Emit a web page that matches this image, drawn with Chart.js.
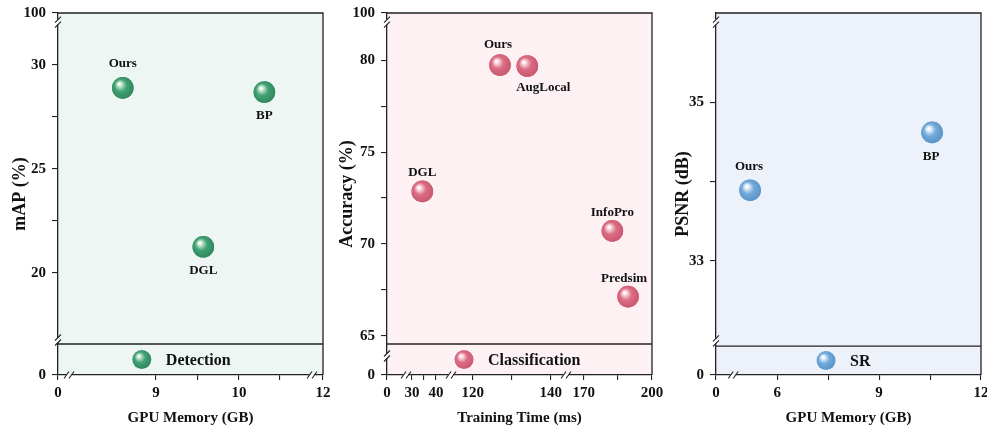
<!DOCTYPE html>
<html>
<head>
<meta charset="utf-8">
<script src="https://cdn.jsdelivr.net/npm/chart.js@4.4.0/dist/chart.umd.min.js"></script>
<style>
html, body {margin: 0; padding: 0; background: #fff;}
#wrap {position: relative; width: 987px; height: 427px;}
#wrap canvas {position: absolute; left: 0; top: 0;}
</style>
</head>
<body>
<div id="wrap">
    <canvas id="det" width="987" height="427"></canvas>
    <canvas id="cls" width="987" height="427"></canvas>
    <canvas id="sr" width="987" height="427"></canvas>
</div>
<script>
const FONT = '"Liberation Serif", "Times New Roman", serif';
Chart.defaults.font.family = FONT;
Chart.defaults.color = '#111';

// detection
const det_methods = ['Ours', 'DGL', 'BP'];
const det_memory = [8.6, 9.57, 10.31];
const det_map = [28.9, 21.26, 28.7];
const det_x_major = [0, 9, 10, 12];
const det_x_minor = [9.5, 10.5];
const det_y_major = [0, 20, 25, 30, 100];
const det_y_minor = [22.5, 27.5];

// classification
const cls_methods = ['Ours', 'AugLocal', 'DGL', 'InfoPro', 'Predsim'];
const cls_time = [127, 134, 34.3, 182.6, 189.5];
const cls_acc = [79.74, 79.69, 72.86, 70.71, 67.13];
const cls_x_major = [0, 30, 40, 120, 140, 170, 200];
const cls_x_minor = [35, 130, 185];
const cls_y_major = [0, 65, 70, 75, 80, 100];
const cls_y_minor = [67.5, 72.5, 77.5];

// super resolution
const sr_methods = ['Ours', 'BP'];
const sr_memory = [5.2, 10.56];
const sr_psnr = [33.89, 34.62];
const sr_x_major = [0, 6, 9, 12];
const sr_x_minor = [7.5, 10.5];
const sr_y_major = [0, 33, 35];
const sr_y_minor = [34];

// linear scale with broken segments: anchors are [value, fraction of axis]
class BrokenScale extends Chart.LinearScale {
    buildTicks() {
        return this.options.tickValues.map(v => ({value: v}));
    }
    toDecimal(value) {
        const a = this.options.anchors;
        if (value <= a[0][0]) return a[0][1];
        for (let i = 1; i < a.length; i++) {
            if (value <= a[i][0]) {
                const t = (value - a[i - 1][0]) / (a[i][0] - a[i - 1][0]);
                return a[i - 1][1] + t * (a[i][1] - a[i - 1][1]);
            }
        }
        return a[a.length - 1][1];
    }
    getPixelForValue(value) {
        if (value === null || isNaN(value)) return NaN;
        return this.getPixelForDecimal(this.toDecimal(value));
    }
    getValueForPixel(pixel) {
        const d = this.getDecimalForPixel(pixel);
        const a = this.options.anchors;
        for (let i = 1; i < a.length; i++) {
            if (d <= a[i][1]) {
                const t = (d - a[i - 1][1]) / (a[i][1] - a[i - 1][1]);
                return a[i - 1][0] + t * (a[i][0] - a[i - 1][0]);
            }
        }
        return a[a.length - 1][0];
    }
}
BrokenScale.id = 'broken';
BrokenScale.defaults = {};
Chart.register(BrokenScale);

const colors = {
    green: {base: '#42a273', light: '#b8e0cb', dark: '#31895d'},
    pink: {base: '#db6c83', light: '#f7ccd5', dark: '#c95a72'},
    blue: {base: '#72aada', light: '#d6e8f6', dark: '#5c95c8'},
};

function sphere(ctx, x, y, r, c) {
    const g = ctx.createRadialGradient(x - r * 0.33, y - r * 0.36, r * 0.07, x - r * 0.08, y - r * 0.08, r * 1.05);
    g.addColorStop(0, '#ffffff');
    g.addColorStop(0.17, c.light);
    g.addColorStop(0.5, c.base);
    g.addColorStop(1, c.dark);
    return g;
}

function drawBreakX(ctx, x, y, bg) {
    ctx.fillStyle = bg;
    ctx.fillRect(x - 2.5, y - 1.6, 5, 1.6);
    ctx.fillStyle = '#fff';
    ctx.fillRect(x - 2.5, y, 5, 1.6);
    ctx.strokeStyle = '#222';
    ctx.lineWidth = 1.1;
    for (const dx of [-2.5, 2.5]) {
        ctx.beginPath();
        ctx.moveTo(x + dx - 2.5, y + 3.5);
        ctx.lineTo(x + dx + 2.5, y - 3.5);
        ctx.stroke();
    }
}

function drawBreakY(ctx, x, y, bg) {
    ctx.fillStyle = '#fff';
    ctx.fillRect(x - 1.6, y - 2.5, 1.6, 5);
    ctx.fillStyle = bg;
    ctx.fillRect(x, y - 2.5, 1.6, 5);
    ctx.strokeStyle = '#222';
    ctx.lineWidth = 1.1;
    for (const dy of [-2.5, 2.5]) {
        ctx.beginPath();
        ctx.moveTo(x - 3, y + dy + 3);
        ctx.lineTo(x + 3, y + dy - 3);
        ctx.stroke();
    }
}

const decor = {
    id: 'decor',
    beforeDraw(chart) {
        const p = chart.config.options.panel;
        const {ctx, chartArea: a} = chart;
        ctx.save();
        ctx.fillStyle = p.bg;
        ctx.fillRect(a.left, a.top, a.right - a.left, a.bottom - a.top);
        ctx.restore();
    },
    afterDatasetsDraw(chart) {
        const p = chart.config.options.panel;
        const ctx = chart.ctx;
        const meta = chart.getDatasetMeta(0);
        ctx.save();
        // shade the library's points as glossy spheres
        meta.data.forEach(pt => {
            const r = pt.options.radius;
            if (!isFinite(pt.x) || !isFinite(pt.y)) return;
            ctx.fillStyle = sphere(ctx, pt.x, pt.y, r, p.color);
            ctx.beginPath();
            ctx.arc(pt.x, pt.y, r, 0, Math.PI * 2);
            ctx.fill();
        });
        ctx.font = 'bold 13px ' + FONT;
        ctx.fillStyle = '#111';
        ctx.textAlign = 'center';
        ctx.textBaseline = 'middle';
        meta.data.forEach((pt, i) => {
            ctx.fillText(p.methods[i], pt.x + p.labelDx[i], pt.y + p.labelDy[i]);
        });
        ctx.restore();
    },
    afterDraw(chart) {
        const p = chart.config.options.panel;
        const {ctx, chartArea: a} = chart;
        const xs = chart.scales.x, ys = chart.scales.y;
        ctx.save();
        ctx.strokeStyle = '#222';
        ctx.lineWidth = 1.3;
        ctx.beginPath();
        ctx.moveTo(a.left, a.top);
        ctx.lineTo(a.right, a.top);
        ctx.lineTo(a.right, a.bottom);
        ctx.stroke();
        const sy = ys.getPixelForDecimal(p.sep);
        ctx.beginPath();
        ctx.moveTo(a.left, sy);
        ctx.lineTo(a.right, sy);
        ctx.stroke();

        p.xBreaks.forEach(d => drawBreakX(ctx, xs.getPixelForDecimal(d), a.bottom, p.bg));
        p.yBreaks.forEach(d => drawBreakY(ctx, a.left, ys.getPixelForDecimal(d), p.bg));

        // legend in the bottom strip
        ctx.font = 'bold 16px ' + FONT;
        const label = chart.data.datasets[0].label;
        const tw = ctx.measureText(label).width;
        const r = 9.5, gap = 24;
        const total = r + gap + tw;
        const cx = (a.left + a.right) / 2 + p.legendShift;
        const ly = (sy + a.bottom) / 2;
        const mx = cx - total / 2 + r;
        ctx.fillStyle = sphere(ctx, mx, ly, r, p.color);
        ctx.beginPath();
        ctx.arc(mx, ly, r, 0, Math.PI * 2);
        ctx.fill();
        ctx.fillStyle = '#111';
        ctx.textAlign = 'left';
        ctx.textBaseline = 'middle';
        ctx.fillText(label, mx + gap, ly + 1);
        ctx.restore();
    }
};

function make_chart(id, p) {
    const points = p.xs.map((x, i) => ({x: x, y: p.ys[i]}));
    return new Chart(document.getElementById(id), {
        type: 'scatter',
        data: {
            datasets: [{
                label: p.task,
                data: points,
                pointRadius: 10.8,
                pointHoverRadius: 10.8,
                borderWidth: 0,
                backgroundColor: p.color.base,
            }]
        },
        options: {
            responsive: false,
            animation: false,
            events: [],
            panel: p,
            layout: {autoPadding: false, padding: {left: p.padLeft, right: p.padRight, top: 13, bottom: 0}},
            plugins: {legend: {display: false}, tooltip: {enabled: false}},
            scales: {
                x: {
                    type: 'broken',
                    position: 'bottom',
                    min: p.xAnchors[0][0],
                    max: p.xAnchors[p.xAnchors.length - 1][0],
                    anchors: p.xAnchors,
                    tickValues: p.xMajor.concat(p.xMinor),
                    afterFit: s => { s.height = 52; s.paddingLeft = 0; s.paddingRight = 0; },
                    grid: {drawOnChartArea: false, drawTicks: true, tickLength: 5, color: '#222', lineWidth: 1.1},
                    border: {display: true, color: '#222', width: 1.3},
                    ticks: {
                        autoSkip: false, maxRotation: 0, padding: 4,
                        font: {size: 15, weight: 'bold'}, color: '#111',
                        callback: v => p.xMajor.includes(v) ? String(v) : '',
                    },
                    title: {
                        display: true, text: p.xTitle, color: '#111',
                        font: {size: 15, weight: 'bold'}, padding: {top: 0, bottom: 0},
                    },
                },
                y: {
                    type: 'broken',
                    position: 'left',
                    min: p.yAnchors[0][0],
                    max: p.yAnchors[p.yAnchors.length - 1][0],
                    anchors: p.yAnchors,
                    tickValues: p.yMajor.concat(p.yMinor),
                    afterFit: s => { s.width = 58; s.paddingTop = 0; s.paddingBottom = 0; },
                    grid: {drawOnChartArea: false, drawTicks: true, tickLength: 6, color: '#222', lineWidth: 1.1},
                    border: {display: true, color: '#222', width: 1.3},
                    ticks: {
                        autoSkip: false, padding: 6,
                        font: {size: 15, weight: 'bold'}, color: '#111',
                        callback: v => p.yMajor.includes(v) ? String(v) : '',
                    },
                    title: {
                        display: true, text: p.yTitle, color: '#111',
                        font: {size: 18, weight: 'bold'}, padding: {top: p.yTitlePad, bottom: 0},
                    },
                },
            },
        },
        plugins: [decor],
    });
}

document.addEventListener('DOMContentLoaded', () => {
    make_chart('det', {
        task: 'Detection', methods: det_methods, xs: det_memory, ys: det_map,
        xMajor: det_x_major, xMinor: det_x_minor, yMajor: det_y_major, yMinor: det_y_minor,
        xAnchors: [[0, 0], [8, 0.0566], [10, 0.683], [11, 0.992], [12, 1]],
        yAnchors: [[0, 0], [16.5, 0.0807], [30, 0.8564], [32, 0.974], [100, 1]],
        xBreaks: [0.0415, 0.9585], yBreaks: [0.975, 0.0967], sep: 0.0856,
        labelDx: [0, 0, 0], labelDy: [-24, 24, 24],
        xTitle: 'GPU Memory (GB)', yTitle: 'mAP (%)', yTitlePad: 10,
        padLeft: 0, padRight: 664, bg: '#eef6f3', color: colors.green, legendShift: -9,
    });
    make_chart('cls', {
        task: 'Classification', methods: cls_methods, xs: cls_time, ys: cls_acc,
        xMajor: cls_x_major, xMinor: cls_x_minor, yMajor: cls_y_major, yMinor: cls_y_minor,
        xAnchors: [[0, 0], [30, 0.0943], [40, 0.1849], [120, 0.3234], [140, 0.6177], [170, 0.7421], [200, 1]],
        yAnchors: [[0, 0], [65, 0.1086], [80, 0.8693], [100, 1]],
        xBreaks: [0.0717, 0.2415, 0.6755], yBreaks: [0.975, 0.0525], sep: 0.0856,
        labelDx: [-2, 16, 0, 0, -4], labelDy: [-20, 22, -19, -18, -18],
        xTitle: 'Training Time (ms)', yTitle: 'Accuracy (%)', yTitlePad: 8,
        padLeft: 329, padRight: 335, bg: '#fdf1f3', color: colors.pink, legendShift: -2,
    });
    make_chart('sr', {
        task: 'SR', methods: sr_methods, xs: sr_memory, ys: sr_psnr,
        xMajor: sr_x_major, xMinor: sr_x_minor, yMajor: sr_y_major, yMinor: sr_y_minor,
        xAnchors: [[0, 0], [4.5, 0.039], [6, 0.2311], [12, 1]],
        yAnchors: [[0, 0], [32, 0.097], [33, 0.3157], [35, 0.7533], [36.13, 1]],
        xBreaks: [0.065], yBreaks: [0.975, 0.094], sep: 0.08,
        labelDx: [-1, -1], labelDy: [-24, 24],
        xTitle: 'GPU Memory (GB)', yTitle: 'PSNR (dB)', yTitlePad: 15,
        padLeft: 658, padRight: 6, bg: '#edf2fa', color: colors.blue, legendShift: -5,
    });
});
</script>
</body>
</html>
